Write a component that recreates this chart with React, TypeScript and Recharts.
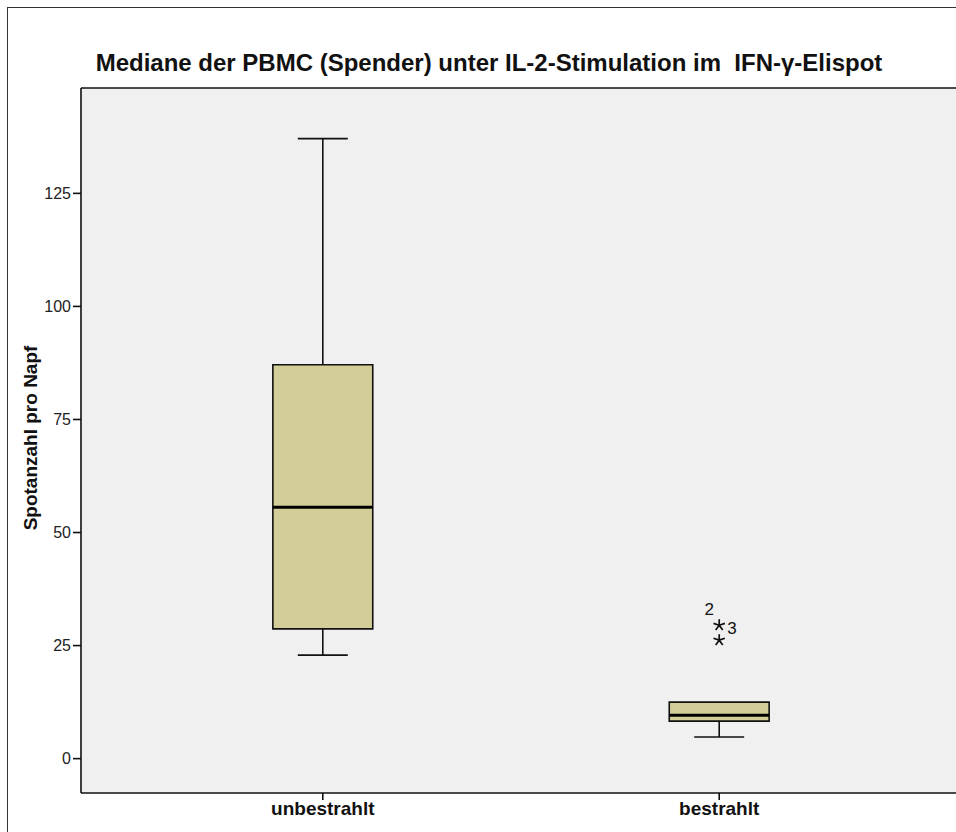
import React from 'react'
import {
  ComposedChart, XAxis, YAxis, CartesianGrid, ReferenceArea, ReferenceLine, Scatter,
} from 'recharts'

// Boxplot Kennwerte je Gruppe
const categories = ['unbestrahlt', 'bestrahlt']
const whiskerLow = [22.9, 4.8]
const q1 = [28.7, 8.3]
const medians = [55.6, 9.6]
const q3 = [87.1, 12.5]
const whiskerHigh = [137.1, 12.5]

// Extremwerte (Sterne) mit Fallnummer
const outlierGroup = [1, 1]
const outlierValues = [29.5, 26.2]
const outlierCase = [2, 3]

const yTicks = [0, 25, 50, 75, 100, 125]

const Y_DOMAIN: [number, number] = [-7.6, 148.3]
const X_DOMAIN: [number, number] = [-0.61, 1.61]
const BOX_HALF = 0.126
const CAP_HALF = 0.063
const BOX_FILL = '#d3ce98'
const LINE = '#111'
const FONT = 'Arial, "Liberation Sans", Helvetica, sans-serif'

const outliers = outlierValues.map((v, i) => ({ x: outlierGroup[i], y: v, id: outlierCase[i] }))

// Beschriftung: Fall 2 oben links, Fall 3 rechts oben daneben
const labelPlace: Record<number, { dx: number; dy: number; anchor: string }> = {
  2: { dx: -10, dy: -10, anchor: 'middle' },
  3: { dx: 8, dy: -6, anchor: 'start' },
}

const StarShape = (props: any) => {
  const { cx, cy, payload } = props
  const r = 6
  const arms = [0, 72, 144, 216, 288].map(a => {
    const rad = (a * Math.PI) / 180
    return `M${cx},${cy}L${cx + Math.sin(rad) * r},${cy - Math.cos(rad) * r}`
  }).join('')
  const lp = labelPlace[payload.id] ?? { dx: 8, dy: 5, anchor: 'start' }
  return (
    <g>
      <path d={arms} stroke={LINE} strokeWidth={1.7} fill="none" />
      <text x={cx + lp.dx} y={cy + lp.dy} textAnchor={lp.anchor} fontSize={17} fontFamily={FONT} fill="#111">
        {payload.id}
      </text>
    </g>
  )
}

export default function App() {
  return (
    <div style={{ position: 'absolute', left: 0, top: 0, width: 956, height: 832, overflow: 'hidden', background: '#fff' }}>
      <div style={{ position: 'absolute', left: 7, top: 7, width: 1100, height: 1000, borderTop: '1px solid #333', borderLeft: '1px solid #333' }} />
      <div
        style={{
          position: 'absolute', left: 0, width: 978, top: 49, textAlign: 'center',
          fontFamily: FONT, fontWeight: 'bold', fontSize: 24, lineHeight: '28px', color: '#111', whiteSpace: 'pre',
        }}
      >
        {'Mediane der PBMC (Spender) unter IL-2-Stimulation im  IFN-γ-Elispot'}
      </div>
      <div
        style={{
          position: 'absolute', left: 31, top: 438, transform: 'translate(-50%, -50%) rotate(-90deg)',
          fontFamily: FONT, fontWeight: 'bold', fontSize: 19, color: '#111', whiteSpace: 'nowrap',
        }}
      >
        Spotanzahl pro Napf
      </div>
      <div style={{ position: 'absolute', left: 0, top: 0 }}>
        <ComposedChart width={961} height={832} data={outliers} margin={{ top: 88, right: 0, bottom: 0, left: 0 }}>
          <CartesianGrid horizontal={false} vertical={false} fill="#f0f0f0" />
          <XAxis
            type="number" dataKey="x" domain={X_DOMAIN} ticks={[0, 1]} allowDataOverflow
            height={39} tickSize={7} stroke={LINE} strokeWidth={1.6}
            tickFormatter={(i: number) => categories[i]}
            tick={{ fontSize: 19, fontWeight: 'bold', fill: '#111', fontFamily: FONT }}
          />
          <YAxis
            type="number" dataKey="y" domain={Y_DOMAIN} ticks={yTicks} allowDataOverflow
            width={81} tickSize={8} stroke={LINE} strokeWidth={1.6}
            tick={{ fontSize: 16, fill: '#222', fontFamily: FONT }}
          />
          <ReferenceLine y={Y_DOMAIN[1]} stroke={LINE} strokeWidth={1.6} ifOverflow="visible" />
          {categories.map((c, i) => (
            <ReferenceLine key={`wl-${c}`} segment={[{ x: i, y: whiskerLow[i] }, { x: i, y: q1[i] }]} stroke={LINE} strokeWidth={1.6} />
          ))}
          {categories.map((c, i) => (
            <ReferenceLine key={`wh-${c}`} segment={[{ x: i, y: q3[i] }, { x: i, y: whiskerHigh[i] }]} stroke={LINE} strokeWidth={1.6} />
          ))}
          {categories.map((c, i) => (
            <ReferenceArea
              key={`box-${c}`} x1={i - BOX_HALF} x2={i + BOX_HALF} y1={q1[i]} y2={q3[i]}
              fill={BOX_FILL} fillOpacity={1} stroke={LINE} strokeWidth={1.6}
            />
          ))}
          {categories.map((c, i) => (
            <ReferenceLine key={`med-${c}`} segment={[{ x: i - BOX_HALF, y: medians[i] }, { x: i + BOX_HALF, y: medians[i] }]} stroke="#000" strokeWidth={3} />
          ))}
          {categories.map((c, i) => (
            <ReferenceLine key={`capl-${c}`} segment={[{ x: i - CAP_HALF, y: whiskerLow[i] }, { x: i + CAP_HALF, y: whiskerLow[i] }]} stroke={LINE} strokeWidth={1.6} />
          ))}
          {categories.map((c, i) => whiskerHigh[i] > q3[i] ? (
            <ReferenceLine key={`caph-${c}`} segment={[{ x: i - CAP_HALF, y: whiskerHigh[i] }, { x: i + CAP_HALF, y: whiskerHigh[i] }]} stroke={LINE} strokeWidth={1.6} />
          ) : null)}
          <Scatter data={outliers} dataKey="y" shape={StarShape} isAnimationActive={false} />
        </ComposedChart>
      </div>
    </div>
  )
}
